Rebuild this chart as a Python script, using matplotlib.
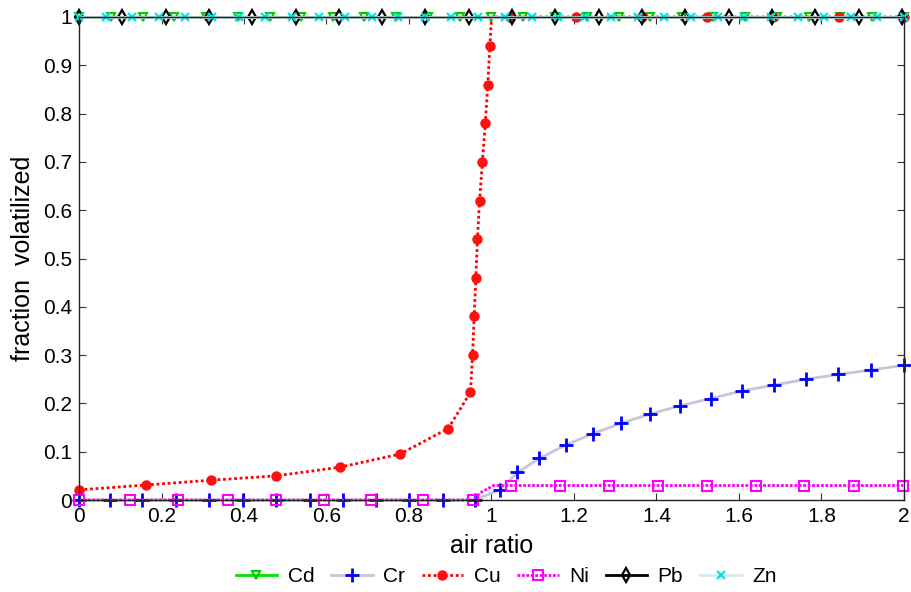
import numpy as np
import matplotlib
matplotlib.use("Agg")
import matplotlib.pyplot as plt
from matplotlib.ticker import FuncFormatter

plt.rcParams['font.family'] = ['Liberation Sans', 'DejaVu Sans']

# --- data: fraction volatilized vs. air ratio -------------------------------
# Cd: fully volatilized over the whole range
cd_x = [0.0, 0.077, 0.154, 0.231, 0.308, 0.385, 0.462, 0.538, 0.615, 0.692,
        0.769, 0.846, 0.923, 1.0, 1.077, 1.154, 1.231, 1.308, 1.385, 1.462,
        1.538, 1.615, 1.692, 1.769, 1.846, 1.923, 2.0]
cd_y = [1.0] * len(cd_x)

# Cr: zero below stoichiometric air, then rising
cr_x = [0.0, 0.074, 0.152, 0.235, 0.316, 0.397, 0.478, 0.559, 0.640, 0.720,
        0.801, 0.882, 0.960, 1.020, 1.063, 1.116, 1.180, 1.245, 1.314, 1.385,
        1.457, 1.531, 1.608, 1.685, 1.762, 1.841, 1.919, 2.0]
cr_y = [0.0, 0.0, 0.0, 0.0, 0.0, 0.0, 0.0, 0.0, 0.0, 0.0,
        0.0, 0.0, 0.0, 0.021, 0.057, 0.086, 0.114, 0.137, 0.159, 0.178,
        0.195, 0.210, 0.226, 0.238, 0.250, 0.260, 0.269, 0.279]

# Cu: steep rise just below air ratio 1
cu_x = [0.0, 0.162, 0.320, 0.478, 0.633, 0.778, 0.895, 0.949, 0.954, 0.958,
        0.962, 0.966, 0.971, 0.978, 0.985, 0.991, 0.996, 1.0, 1.045, 1.205,
        1.365, 1.522, 1.682, 1.842, 2.0]
cu_y = [0.021, 0.031, 0.041, 0.050, 0.068, 0.095, 0.148, 0.223, 0.300, 0.380,
        0.460, 0.540, 0.620, 0.700, 0.780, 0.860, 0.940, 1.0, 1.0, 1.0,
        1.0, 1.0, 1.0, 1.0, 1.0]
cu_mark = [True] * 17 + [False] + [True] * 7

# Ni: small step around air ratio 1
ni_x = [0.0, 0.124, 0.241, 0.362, 0.478, 0.595, 0.709, 0.833, 0.954, 0.975,
        1.005, 1.047, 1.166, 1.286, 1.404, 1.523, 1.641, 1.758, 1.878, 1.998]
ni_y = [0.0, 0.0, 0.0, 0.0, 0.0, 0.0, 0.0, 0.0, 0.0, 0.016,
        0.030, 0.030, 0.030, 0.030, 0.030, 0.030, 0.030, 0.030, 0.030, 0.030]
ni_mark = [True] * 9 + [False, False] + [True] * 9

# Pb: fully volatilized
pb_x = [0.0, 0.105, 0.210, 0.315, 0.420, 0.525, 0.630, 0.735, 0.840, 0.945,
        1.050, 1.155, 1.260, 1.365, 1.470, 1.575, 1.680, 1.785, 1.890, 1.995]
pb_y = [1.0] * len(pb_x)

# Zn: fully volatilized
zn_x = [0.0, 0.065, 0.129, 0.194, 0.258, 0.323, 0.387, 0.452, 0.516, 0.581,
        0.645, 0.710, 0.774, 0.839, 0.903, 0.968, 1.032, 1.097, 1.161, 1.226,
        1.290, 1.355, 1.419, 1.484, 1.548, 1.613, 1.677, 1.742, 1.806, 1.871,
        1.935, 2.0]
zn_y = [1.0] * len(zn_x)

x_ticks = [0, 0.2, 0.4, 0.6, 0.8, 1.0, 1.2, 1.4, 1.6, 1.8, 2.0]
y_ticks = [0, 0.1, 0.2, 0.3, 0.4, 0.5, 0.6, 0.7, 0.8, 0.9, 1.0]

# --- figure -----------------------------------------------------------------
fig = plt.figure(figsize=(9.12, 5.92), dpi=100)
ax = fig.add_axes([79 / 912, 92 / 592, 825 / 912, 483 / 592])

common = dict(clip_on=False)
ax.plot(cd_x, cd_y, color='#00e600', lw=2.0, marker='v', ms=6, mfc='none',
        mec='#00cc00', mew=1.5, label='Cd', **common)
ax.plot(cr_x, cr_y, color='#c6c6d8', lw=2.0, marker='+', ms=10,
        mec='#0000ff', mew=2.0, label='Cr', **common)
ax.plot(cu_x, cu_y, color='#ff0000', lw=2.0, ls=(0, (1, 1)), marker='o', ms=6.5,
        mfc='#ff1010', mec='#ff1010', markevery=cu_mark, label='Cu', **common)
ax.plot(ni_x, ni_y, color='#ff00ff', lw=2.0, ls=(0, (1, 0.6)), marker='s', ms=7,
        mfc='none', mec='#ff00ff', mew=1.5, markevery=ni_mark, label='Ni',
        **common)
ax.plot(pb_x, pb_y, color='black', lw=2.0, marker='d', ms=7, mfc='none',
        mec='black', mew=1.6, label='Pb', **common)
ax.plot(zn_x, zn_y, color='#d4eeee', lw=2.0, marker='x', ms=6,
        mec='#00e5e5', mew=1.6, label='Zn', **common)

ax.set_xlim(0, 2)
ax.set_ylim(0, 1)
ax.set_xticks(x_ticks)
ax.set_yticks(y_ticks)
fmt = FuncFormatter(lambda v, p: '{:g}'.format(round(v, 2)))
ax.xaxis.set_major_formatter(fmt)
ax.yaxis.set_major_formatter(fmt)
ax.tick_params(direction='in', length=5, width=0.8, labelsize=15,
               top=True, right=True, pad=5, color='#333333')
for s in ax.spines.values():
    s.set_linewidth(1.0)
    s.set_color('#222222')

ax.set_xlabel('air ratio', fontsize=18, labelpad=6)
ax.set_ylabel('fraction  volatilized', fontsize=18, labelpad=6)

fig.legend(loc='center', bbox_to_anchor=(506 / 912, 15 / 592), ncol=6,
           frameon=False, fontsize=15, handlelength=2.0, handletextpad=0.5,
           columnspacing=0.8)

fig.savefig('out.png', dpi=100)
